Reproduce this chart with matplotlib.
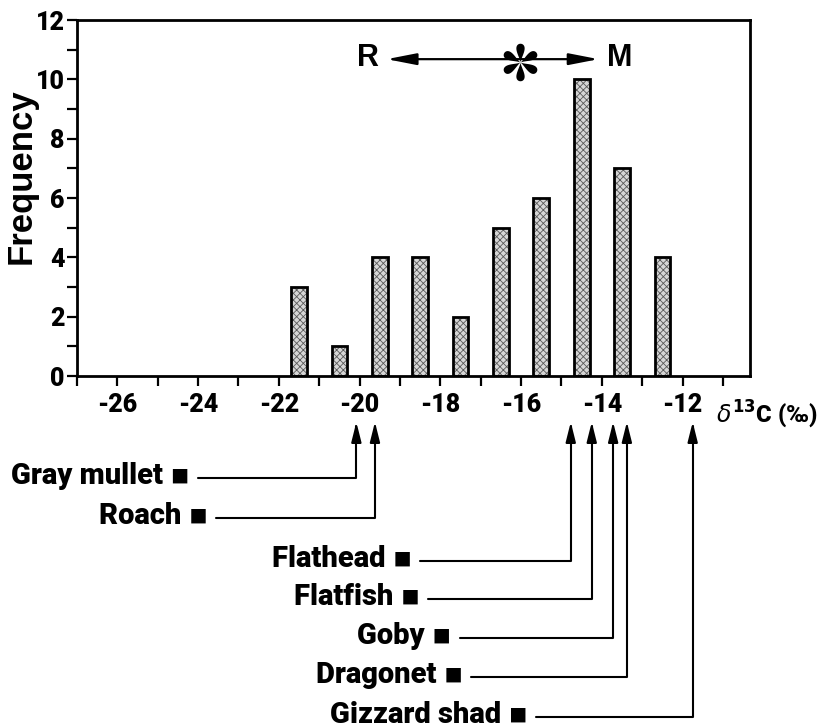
import matplotlib
matplotlib.use('Agg')
import matplotlib.pyplot as plt
from matplotlib.path import Path
import numpy as np

# histogram of d13C values
bin_centers = [-21.5, -20.5, -19.5, -18.5, -17.5, -16.5, -15.5, -14.5, -13.5, -12.5]
freq = [3, 1, 4, 4, 2, 5, 6, 10, 7, 4]

# fish species and their d13C
species = ['Gray mullet', 'Roach', 'Flathead', 'Flatfish', 'Goby', 'Dragonet', 'Gizzard shad']
species_d13c = [-20.08, -19.62, -14.77, -14.25, -13.72, -13.38, -11.75]

xticks_major = [-26, -24, -22, -20, -18, -16, -14, -12]
yticks_major = [0, 2, 4, 6, 8, 10, 12]

# layout of the labels below the axis (figure pixels, origin top-left)
lab_right = [190, 208, 412, 420, 452, 463, 528]
lab_line_y = [478, 518, 561, 599, 638, 677, 717]
arrow_tip_y = 422

W, H = 830, 728
plt.rcParams['font.family'] = ['Roboto', 'DejaVu Sans']
plt.rcParams['hatch.linewidth'] = 0.6


def teardrop_asterisk():
    # six teardrop lobes joined at the centre
    verts, codes = [], []
    t = np.linspace(0, 2*np.pi, 40)
    lx = (1 - np.cos(t)) / 2
    ly = 0.34 * np.sin(t) * np.sin(t/2)**2
    for ang in np.radians(np.arange(90, 450, 60)):
        c, s = np.cos(ang), np.sin(ang)
        px = lx*c - ly*s
        py = lx*s + ly*c
        pts = list(zip(px, py))
        verts += pts
        codes += [Path.MOVETO] + [Path.LINETO]*(len(pts)-2) + [Path.CLOSEPOLY]
    return Path(verts, codes)


fig = plt.figure(figsize=(W/100, H/100), dpi=100)
ax = fig.add_axes([77/W, 1-376/H, (750-77)/W, (376-20)/H])

# stipple fill, then black outline
ax.bar(bin_centers, freq, width=0.39, color='#d6d6d6', hatch='xxxxx', edgecolor='#5a5a5a', linewidth=0, zorder=2)
ax.bar(bin_centers, freq, width=0.39, fill=False, edgecolor='black', linewidth=2.0, zorder=3)

ax.set_xlim(-26.6, -10.33)
ax.set_ylim(0, 12)
ax.set_xticks(xticks_major)
ax.set_xticklabels([str(v) for v in xticks_major])
ax.set_xticks(np.arange(-27, -10, 1), minor=True)
ax.set_yticks(yticks_major)
ax.set_yticks(np.arange(1, 12, 2), minor=True)

for s in ax.spines.values():
    s.set_linewidth(2.0)
ax.tick_params(which='both', direction='out', length=7, width=1.6)
ax.tick_params(axis='x', pad=5)
ax.tick_params(axis='y', pad=2)
for lab in ax.get_xticklabels() + ax.get_yticklabels():
    lab.set_fontweight('black')
    lab.set_fontsize(18)

fig.text(21/W, 1-176/H, 'Frequency', rotation=90, ha='center', va='center',
         fontsize=25, fontweight='bold', family=['Liberation Sans', 'DejaVu Sans'])

fig.text(716/W, 1-414/H, r'$\delta^{\mathbf{13}}$C (‰)', ha='left', va='center',
         fontsize=17, fontweight='black')

# R <- * -> M
ax.annotate('', xy=(-19.33, 10.68), xytext=(-14.08, 10.68),
            arrowprops=dict(arrowstyle='<|-|>,head_length=1.8,head_width=0.35', color='black', lw=1.6,
                            shrinkA=0, shrinkB=0))
ax.text(-19.8, 10.72, 'R', ha='center', va='center', fontsize=22, fontweight='bold',
        family=['Liberation Sans', 'DejaVu Sans'])
ax.text(-13.55, 10.72, 'M', ha='center', va='center', fontsize=22, fontweight='bold',
        family=['Liberation Sans', 'DejaVu Sans'])
ax.plot([-16.02], [10.6], marker=teardrop_asterisk(), markersize=27, color='black',
        markeredgewidth=0, linestyle='none', zorder=5)

# species labels with arrows pointing to their values
for name, val, rx, ly in zip(species, species_d13c, lab_right, lab_line_y):
    fig.text(rx/W, 1-(ly+6)/H, name + ' ▪', ha='right', va='baseline', fontsize=21,
             fontweight='black')
    ax.annotate('', xy=(val, 1-arrow_tip_y/H), xycoords=('data', 'figure fraction'),
                xytext=(rx + 8, H-ly), textcoords='figure pixels',
                arrowprops=dict(arrowstyle='-|>,head_length=1.2,head_width=0.3',
                                connectionstyle='angle,angleA=0,angleB=90,rad=0',
                                color='black', lw=1.5, shrinkA=0, shrinkB=0),
                annotation_clip=False)

fig.savefig('out.png', dpi=100)
